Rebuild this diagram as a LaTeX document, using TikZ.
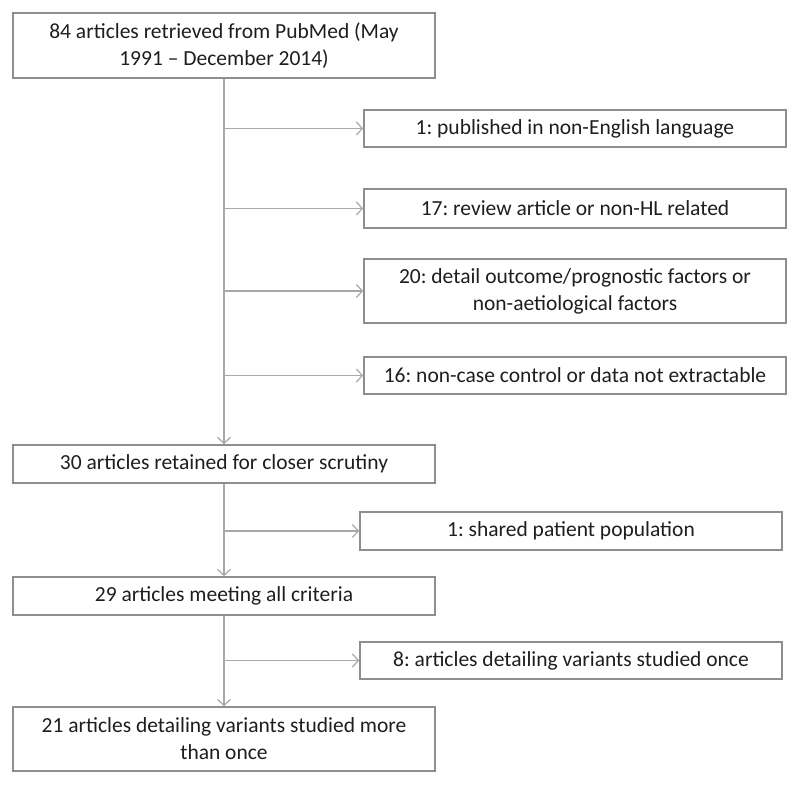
\documentclass[tikz,border=0pt]{standalone}
\usepackage{fontspec}
\setmainfont{Carlito}
\usetikzlibrary{arrows.meta, positioning}
\definecolor{boxline}{HTML}{8E8E8E}
\definecolor{flowline}{HTML}{A8A8A8}
\definecolor{boxtext}{HTML}{1E1E1E}
\frenchspacing

\begin{document}
\begin{tikzpicture}[x=1pt, y=-1pt,
    mainbox/.style={draw=boxline, line width=1.6pt, fill=white, text=boxtext, align=center,
        minimum width=422pt, inner sep=0pt, font=\fontsize{21.5}{27}\selectfont},
    exclbox/.style={mainbox},
    flow/.style={draw=flowline, line width=1.6pt, -{Straight Barb[length=6pt, width=13pt, line width=1.2pt]}}]
% Canvas
\useasboundingbox[fill=white] (0,0) rectangle (800,784);

% Define the column positions
\pgfmathsetmacro{\mainX}{224}
\pgfmathsetmacro{\upperX}{575}
\pgfmathsetmacro{\lowerX}{571}

% Main column
\node[mainbox, minimum height=65pt] (retrieved) at (\mainX,45.5) {84 articles retrieved from PubMed (May\\1991 -- December 2014)};
\node[mainbox, minimum height=38pt] (retained) at (\mainX,464) {30 articles retained for closer scrutiny};
\node[mainbox, minimum height=38pt] (meeting) at (\mainX,596) {29 articles meeting all criteria};
\node[mainbox, minimum height=64pt] (final) at (\mainX,739) {21 articles detailing variants studied more\\than once};

% Excluded articles
\node[exclbox, minimum height=37pt] (language) at (\upperX,128.5) {1: published in non-English language};
\node[exclbox, minimum height=39pt] (review) at (\upperX,208.5) {17: review article or non-HL related};
\node[exclbox, minimum height=64pt] (outcome) at (\upperX,291) {20: detail outcome/prognostic factors or\\non-aetiological factors};
\node[exclbox, minimum height=37pt] (casecontrol) at (\upperX,375.5) {16: non-case control or data not extractable};
\node[exclbox, minimum height=38pt] (shared) at (\lowerX,531) {1: shared patient population};
\node[exclbox, minimum height=37pt] (once) at (\lowerX,660.5) {8: articles detailing variants studied once};

% Draw main flow
\draw[flow] (retrieved) -- (retained);
\draw[flow] (retained) -- (meeting);
\draw[flow] (meeting) -- (final);

% Draw branches
\foreach \excl in {language, review, outcome, casecontrol}
  \draw[flow] (retrieved.south |- \excl.west) -- (\excl.west);
\draw[flow] (retained.south |- shared.west) -- (shared.west);
\draw[flow] (meeting.south |- once.west) -- (once.west);

\end{tikzpicture}
\end{document}
